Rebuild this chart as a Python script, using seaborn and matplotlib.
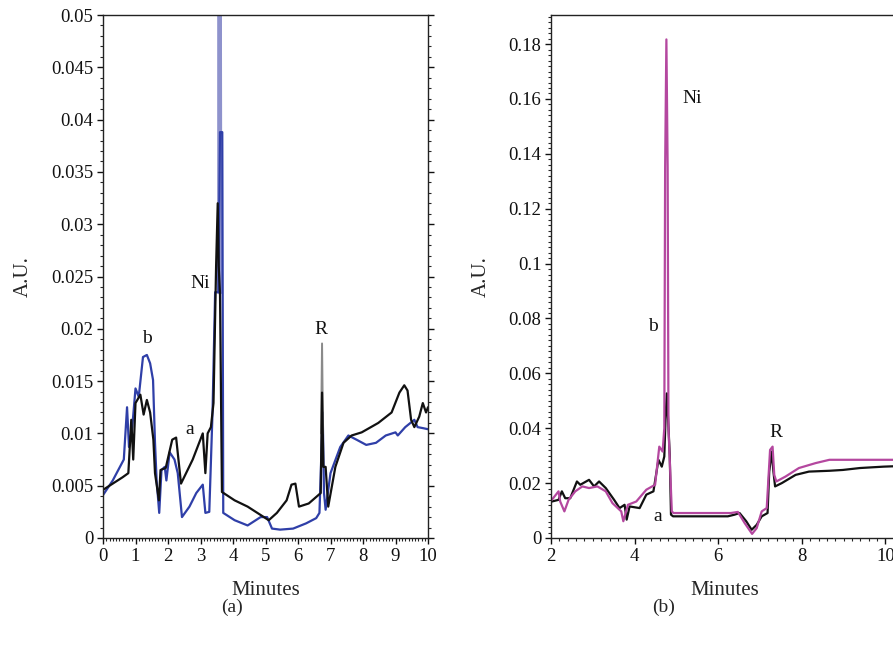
import numpy as np
import pandas as pd
import matplotlib
matplotlib.use("Agg")
import matplotlib.pyplot as plt
from matplotlib.ticker import MultipleLocator
import seaborn as sns

# ---------------- data: panel (a) ----------------
a_left_t = [0.0, 0.3, 0.6, 0.78, 0.87, 0.93, 1.0, 1.15, 1.25, 1.35, 1.45, 1.55, 1.6, 1.72, 1.77,
            1.93, 2.13, 2.25, 2.4, 2.76, 3.07, 3.15, 3.22, 3.32, 3.4, 3.48, 3.53, 3.56, 3.6, 3.66,
            4.05, 4.45, 4.85, 5.1, 5.35, 5.65, 5.8, 5.92, 6.03, 6.33, 6.7, 6.74, 6.78, 6.85,
            6.93, 7.15, 7.4, 7.65, 7.96, 8.47, 8.88, 9.12, 9.27, 9.37, 9.48, 9.58, 9.73, 9.84, 9.94, 10.0]
a_left_v = [0.0046, 0.0052, 0.0058, 0.0062, 0.0113, 0.0075, 0.0129, 0.0137, 0.0118, 0.0132, 0.012,
            0.0094, 0.0062, 0.0036, 0.0065, 0.0067, 0.0094, 0.0096, 0.0052, 0.0075, 0.0100, 0.0062,
            0.0100, 0.0106, 0.0129, 0.026, 0.032, 0.026, 0.0234, 0.0044, 0.0036, 0.0030, 0.0022,
            0.0017, 0.0024, 0.0036, 0.0051, 0.0052, 0.0030, 0.0033, 0.0043, 0.0139, 0.0068, 0.0068,
            0.0030, 0.0068, 0.0091, 0.0098, 0.0101, 0.0110, 0.0120, 0.0139, 0.0146, 0.0141, 0.0113,
            0.0106, 0.0116, 0.0129, 0.0120, 0.0125]
r_spike_t = [6.71, 6.74, 6.77]
r_spike_v = [0.0100, 0.0186, 0.0100]

b_left_t = [0.0, 0.3, 0.64, 0.74, 0.8, 0.9, 1.0, 1.1, 1.23, 1.35, 1.45, 1.54, 1.6, 1.65, 1.73,
            1.8, 1.9, 1.95, 2.05, 2.2, 2.3, 2.43, 2.66, 2.87, 3.07, 3.15, 3.27, 3.37, 3.45, 3.55,
            3.6, 3.63, 3.67, 3.7, 4.05, 4.45, 4.85, 5.05, 5.2, 5.45, 5.85, 6.25, 6.56, 6.66, 6.76,
            6.8, 6.85, 7.0, 7.3, 7.55, 7.8, 8.1, 8.4, 8.7, 9.0, 9.07, 9.3, 9.58, 9.68, 9.85, 10.0]
b_left_v = [0.0041, 0.0055, 0.0075, 0.0125, 0.0087, 0.0106, 0.0143, 0.0135, 0.0173, 0.0175, 0.0167,
            0.0151, 0.0091, 0.0055, 0.0024, 0.0065, 0.0068, 0.0055, 0.0082, 0.0075, 0.0062, 0.0020,
            0.0030, 0.0043, 0.0051, 0.0024, 0.0025, 0.0120, 0.0235, 0.0235, 0.0388, 0.0388, 0.0388,
            0.0024, 0.0017, 0.0012, 0.0020, 0.0020, 0.0009, 0.0008, 0.0009, 0.0014, 0.0019, 0.0024,
            0.0120, 0.0043, 0.0027, 0.0062, 0.0087, 0.0098, 0.0094, 0.0089, 0.0091, 0.0098, 0.0101,
            0.0098, 0.0106, 0.0113, 0.0106, 0.0105, 0.0104]
b_peak_t = [3.57, 3.59, 3.61]
b_peak_v = [0.0235, 0.0600, 0.0235]

# ---------------- data: panel (b) ----------------
a_right_t = [2.02, 2.18, 2.26, 2.34, 2.46, 2.62, 2.7, 2.91, 3.03, 3.15, 3.31, 3.51, 3.64, 3.76, 3.81,
             3.88, 4.12, 4.28, 4.45, 4.57, 4.65, 4.71, 4.74, 4.77, 4.8, 4.84, 4.87, 4.92, 6.23, 6.39,
             6.51, 6.67, 6.8, 6.92, 7.04, 7.18, 7.22, 7.28, 7.32, 7.36, 7.52, 7.85, 8.17, 8.66, 8.98,
             9.39, 9.95, 10.3]
a_right_v = [0.0133, 0.0139, 0.017, 0.0145, 0.0145, 0.0206, 0.0194, 0.0212, 0.0188, 0.0206, 0.0182,
             0.0139, 0.0109, 0.0121, 0.0067, 0.0115, 0.0109, 0.0158, 0.017, 0.0285, 0.026, 0.0297,
             0.0436, 0.0527, 0.0436, 0.0303, 0.0085, 0.0079, 0.0079, 0.0085, 0.0091, 0.0061, 0.0030,
             0.0048, 0.0079, 0.0091, 0.0242, 0.0315, 0.0242, 0.0188, 0.0200, 0.0230, 0.0242, 0.0245,
             0.0248, 0.0255, 0.0260, 0.0262]

b_right_t = [2.02, 2.18, 2.22, 2.32, 2.42, 2.58, 2.75, 2.91, 3.11, 3.31, 3.47, 3.68, 3.73, 3.84, 4.04,
             4.28, 4.49, 4.59, 4.67, 4.71, 4.73, 4.76, 4.79, 4.81, 4.89, 4.93, 6.3, 6.47, 6.63, 6.81,
             6.92, 7.04, 7.16, 7.24, 7.3, 7.34, 7.39, 7.61, 7.93, 8.33, 8.66, 9.5, 10.3]
b_right_v = [0.0139, 0.017, 0.0133, 0.0097, 0.0139, 0.017, 0.0188, 0.0182, 0.0188, 0.017, 0.0127,
             0.0097, 0.0061, 0.0121, 0.0133, 0.0176, 0.0194, 0.0333, 0.0315, 0.04, 0.135, 0.1817,
             0.135, 0.04, 0.0097, 0.0091, 0.0091, 0.0095, 0.0055, 0.0015, 0.0036, 0.0097, 0.0109,
             0.0321, 0.0333, 0.0230, 0.0206, 0.0224, 0.0255, 0.0273, 0.0285, 0.0285, 0.0285]

labels_a = ["b", "a", "Ni", "R"]
labels_a_t = [1.35, 2.68, 2.98, 6.71]
labels_a_v = [0.0191, 0.0104, 0.0243, 0.0199]
labels_b = ["Ni", "b", "a", "R"]
labels_b_t = [5.37, 4.43, 4.55, 7.39]
labels_b_v = [0.1603, 0.0769, 0.0080, 0.0386]

# ---------------- figure ----------------
sns.set_theme(style="ticks")
plt.rcParams["font.family"] = ["Liberation Serif", "DejaVu Serif"]
plt.rcParams["axes.linewidth"] = 1.0

fig = plt.figure(figsize=(8.93, 6.46), dpi=100)
ax1 = fig.add_axes([103 / 893, 108 / 646, 325 / 893, 523 / 646])
ax2 = fig.add_axes([551 / 893, 108 / 646, 347 / 893, 523 / 646])

def df(t, v):
    return pd.DataFrame({"t": t, "v": v})

lw = 1.6
sns.lineplot(data=df(b_peak_t, b_peak_v), x="t", y="v", ax=ax1, color="#8e92cc",
             linewidth=3.0, estimator=None, sort=False)
sns.lineplot(data=df(b_left_t, b_left_v), x="t", y="v", ax=ax1, color="#2f3fa8",
             linewidth=lw, estimator=None, sort=False)
sns.lineplot(data=df(r_spike_t, r_spike_v), x="t", y="v", ax=ax1, color="#8a8a8a",
             linewidth=1.4, estimator=None, sort=False)
sns.lineplot(data=df(a_left_t, a_left_v), x="t", y="v", ax=ax1, color="#111111",
             linewidth=lw, estimator=None, sort=False)

sns.lineplot(data=df(a_right_t, a_right_v), x="t", y="v", ax=ax2, color="#111111",
             linewidth=lw, estimator=None, sort=False)
sns.lineplot(data=df(b_right_t, b_right_v), x="t", y="v", ax=ax2, color="#b4479f",
             linewidth=lw, estimator=None, sort=False)

for lab, t, v in zip(labels_a, labels_a_t, labels_a_v):
    ax1.text(t, v, lab, ha="center", va="center", fontsize=14, color="#111111")
for lab, t, v in zip(labels_b, labels_b_t, labels_b_v):
    ax2.text(t, v, lab, ha="center", va="center", fontsize=14, color="#111111")

# axis (a)
ax1.set_xlim(0, 10)
ax1.set_ylim(0, 0.05)
ax1.set_yticks(np.arange(0, 0.0501, 0.005))
ax1.set_yticklabels(["0", "0.005", "0.01", "0.015", "0.02", "0.025", "0.03", "0.035",
                     "0.04", "0.045", "0.05"])
ax1.set_xticks(range(0, 11))
ax1.xaxis.set_minor_locator(MultipleLocator(0.1))
ax1.yaxis.set_minor_locator(MultipleLocator(0.001))
ax1.tick_params(axis="both", which="major", direction="out", length=4, width=1,
                labelsize=13.5, colors="#111111", pad=3)
ax1.tick_params(axis="both", which="minor", direction="out", length=2.5, width=0.8)
ax1.tick_params(axis="y", which="both", right=True, labelright=False)
for s in ["top", "right", "left", "bottom"]:
    ax1.spines[s].set_visible(True)
    ax1.spines[s].set_color("#222222")
ax1.set_xlabel("Minutes", fontsize=15, labelpad=12)
ax1.set_ylabel("A.U.", fontsize=15, labelpad=13)

# axis (b)
ax2.set_xlim(2, 10.3)
ax2.set_ylim(0, 0.1906)
ax2.set_yticks(np.arange(0, 0.181, 0.02))
ax2.set_yticklabels(["0", "0.02", "0.04", "0.06", "0.08", "0.1", "0.12", "0.14", "0.16", "0.18"])
ax2.set_xticks([2, 4, 6, 8, 10])
ax2.xaxis.set_minor_locator(MultipleLocator(0.2))
ax2.yaxis.set_minor_locator(MultipleLocator(0.002))
ax2.tick_params(axis="both", which="major", direction="out", length=4, width=1,
                labelsize=13.5, colors="#111111", pad=3)
ax2.tick_params(axis="both", which="minor", direction="out", length=2.5, width=0.8)
ax2.spines["top"].set_visible(True)
ax2.spines["right"].set_visible(False)
for s in ["top", "left", "bottom"]:
    ax2.spines[s].set_color("#222222")
ax2.set_xlabel("Minutes", fontsize=15, labelpad=12)
ax2.set_ylabel("A.U.", fontsize=15, labelpad=13)

fig.text(232 / 893, 1 - 607 / 646, "(a)", ha="center", va="center", fontsize=14)
fig.text(664 / 893, 1 - 607 / 646, "(b)", ha="center", va="center", fontsize=14)

fig.savefig("out.png", dpi=100)
